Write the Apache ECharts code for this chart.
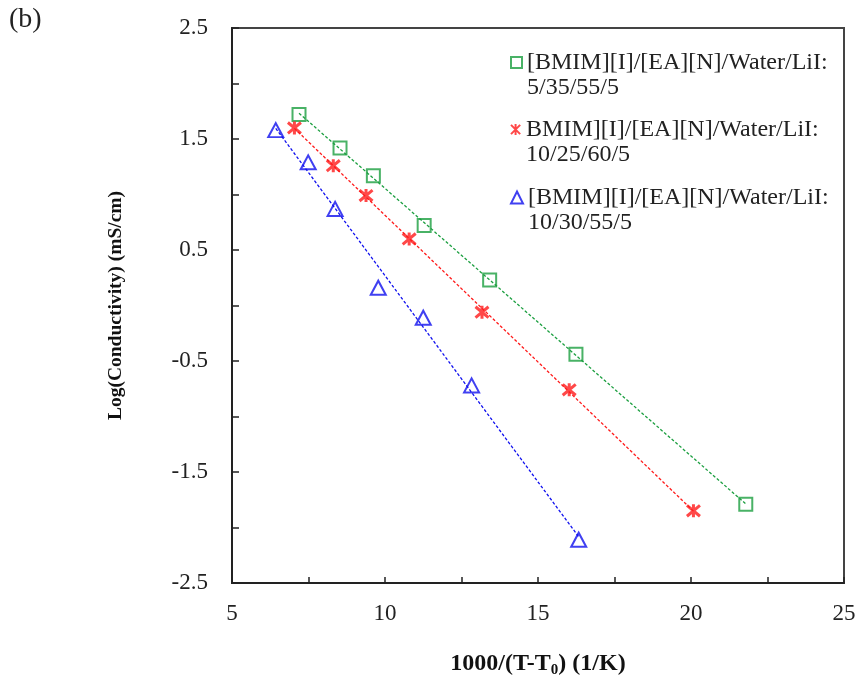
<!DOCTYPE html>
<html><head><meta charset="utf-8">
<script src="https://cdn.jsdelivr.net/npm/echarts@6/dist/echarts.min.js"></script>
<style>html,body{margin:0;padding:0;background:#fff}#c{width:859px;height:684px}</style>
</head><body><div id="c"></div>
<script>
// ---- data ----
const legendLabels = [
  '[BMIM][I]/[EA][N]/Water/LiI:\n5/35/55/5',
  'BMIM][I]/[EA][N]/Water/LiI:\n10/25/60/5',
  '[BMIM][I]/[EA][N]/Water/LiI:\n10/30/55/5'
];
const xGreen = [7.19, 8.53, 9.62, 11.28, 13.42, 16.24, 21.79];
const yGreen = [1.72, 1.42, 1.17, 0.72, 0.23, -0.44, -1.79];
const xRed   = [7.04, 8.31, 9.38, 10.79, 13.17, 16.02, 20.08];
const yRed   = [1.60, 1.26, 0.99, 0.60, -0.06, -0.76, -1.85];
const xBlue  = [6.43, 7.49, 8.37, 9.78, 11.25, 12.83, 16.33];
const yBlue  = [1.58, 1.29, 0.87, 0.16, -0.11, -0.72, -2.11];
const xTicks = [5, 10, 15, 20, 25];
const yTicks = [-2.5, -1.5, -0.5, 0.5, 1.5, 2.5];

const FONT = "'Liberation Serif', 'Times New Roman', serif";
const GREEN = '#1c9f40', RED = '#ff1a1a', BLUE = '#1010ee';
const STAR = 'path://M0,0 L10,10 M10,0 L0,10 M5,-1 L5,11';

function pairs(xs, ys){ return xs.map((x,i)=>[x, ys[i]]); }
function fit(xs, ys){
  const n = xs.length;
  const mx = xs.reduce((a,b)=>a+b,0)/n, my = ys.reduce((a,b)=>a+b,0)/n;
  let sxy=0, sxx=0;
  for(let i=0;i<n;i++){ sxy+=(xs[i]-mx)*(ys[i]-my); sxx+=(xs[i]-mx)*(xs[i]-mx); }
  const k = sxy/sxx, b = my-k*mx;
  const x0 = Math.min(...xs), x1 = Math.max(...xs);
  return [[x0, k*x0+b],[x1, k*x1+b]];
}

function lineSeries(xs, ys, color){
  return { type:'line', data: fit(xs, ys), symbol:'none', silent:true, z:1,
    lineStyle:{ color: color, width:1.3, type:[3,2] } };
}

function legendFor(name, top, icon, color, size){
  return {
    data:[name], left:510, top: top, orient:'vertical', padding:0,
    icon: icon, itemWidth:size, itemHeight:size,
    itemStyle:{ color: icon==='rect'||icon==='triangle' ? 'rgba(0,0,0,0)' : color, borderColor: color, borderWidth:2 },
    formatter: n => '\n' + n,
    textStyle:{ fontFamily: FONT, fontSize:24, lineHeight:25, color:'#222' },
    selectedMode:false
  };
}

const chart = echarts.init(document.getElementById('c'));
chart.setOption({
  animation:false,
  backgroundColor:'#fff',
  graphic:[{ type:'text', left:9, top:6, style:{ text:'(b)', font:'28px ' + FONT, fill:'#222' } }],
  grid:{ left:232, right:15, top:28, bottom:101, containLabel:false, outerBoundsMode:'none',
    show:true, borderColor:'#444', borderWidth:2, backgroundColor:'rgba(0,0,0,0)' },
  legend:[
    legendFor(legendLabels[0], 25, 'rect', GREEN, 11),
    legendFor(legendLabels[1], 92, STAR, RED, 11),
    legendFor(legendLabels[2], 160, 'triangle', BLUE, 12)
  ],
  xAxis:{ type:'value', min:5, max:25, interval:2.5,
    name:'{b|1000/(T-T}{s|0}{b|) (1/K)}', nameLocation:'middle', nameGap:66,
    nameTextStyle:{ rich:{
      b:{ fontFamily:FONT, fontSize:24, fontWeight:'bold', color:'#111' },
      s:{ fontFamily:FONT, fontSize:15, fontWeight:'bold', color:'#111', padding:[14,0,0,0] } } },
    axisLine:{ show:true, onZero:false, lineStyle:{ color:'#222', width:2 } },
    axisTick:{ show:true, inside:true, length:6, lineStyle:{ color:'#222', width:1.5 } },
    splitLine:{ show:false },
    axisLabel:{ margin:19, fontFamily:FONT, fontSize:23, color:'#222',
      formatter: v => xTicks.some(t => Math.abs(t - v) < 1e-6) ? String(v) : '' }
  },
  yAxis:{ type:'value', min:-2.5, max:2.5, interval:0.5,
    name:'Log(Conductivity) (mS/cm)', nameLocation:'middle', nameGap:106, nameRotate:90,
    nameTextStyle:{ fontFamily:FONT, fontSize:19.5, fontWeight:'bold', color:'#111' },
    axisLine:{ show:true, onZero:false, lineStyle:{ color:'#222', width:2 } },
    axisTick:{ show:true, inside:true, length:7, lineStyle:{ color:'#222', width:1.5 } },
    splitLine:{ show:false },
    axisLabel:{ margin:24, fontFamily:FONT, fontSize:23, color:'#222',
      formatter: v => yTicks.some(t => Math.abs(t - v) < 1e-6) ? v.toFixed(1) : '' }
  },
  series:[
    lineSeries(xGreen, yGreen, GREEN),
    lineSeries(xRed, yRed, RED),
    lineSeries(xBlue, yBlue, BLUE),
    { name: legendLabels[0], type:'scatter', data: pairs(xGreen, yGreen), symbol:'rect', symbolSize:13, z:3,
      itemStyle:{ color:'rgba(0,0,0,0)', borderColor:GREEN, borderWidth:2 } },
    { name: legendLabels[1], type:'scatter', data: pairs(xRed, yRed), symbol:STAR, symbolSize:13, z:3,
      itemStyle:{ color:RED, borderColor:RED, borderWidth:3 } },
    { name: legendLabels[2], type:'scatter', data: pairs(xBlue, yBlue), symbol:'triangle', symbolSize:[15,14], z:3,
      itemStyle:{ color:'rgba(0,0,0,0)', borderColor:BLUE, borderWidth:2 } }
  ]
});
</script></body></html>
